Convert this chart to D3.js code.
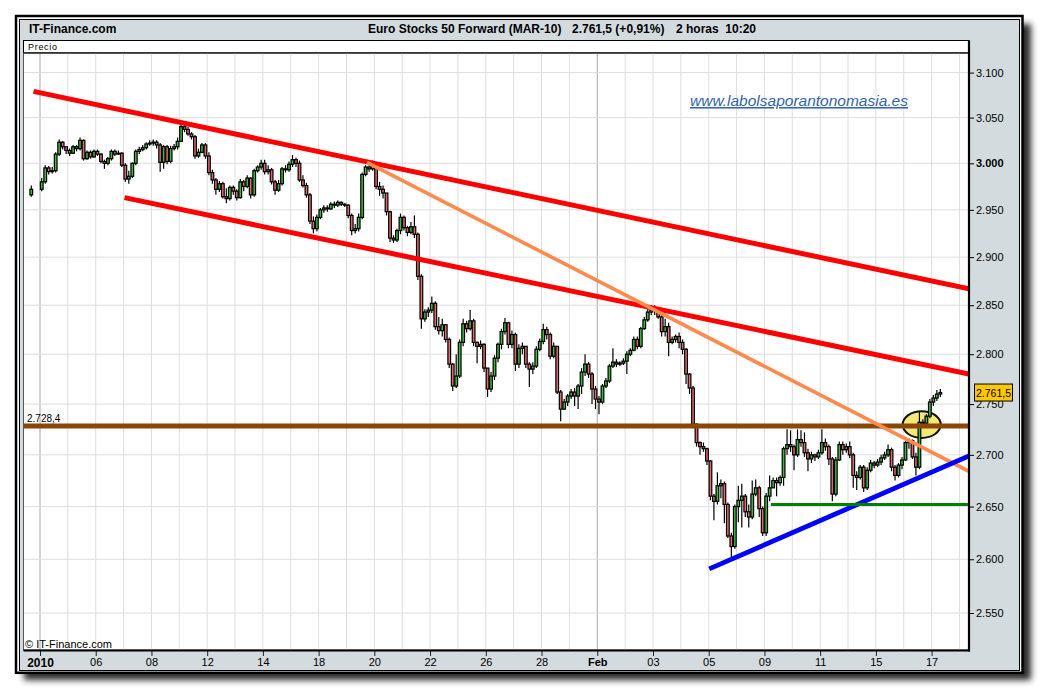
<!DOCTYPE html>
<html><head><meta charset="utf-8">
<script src="https://cdn.jsdelivr.net/npm/d3@7"></script>
<style>
body{margin:0;background:#fff}
svg{display:block}
text{font-family:"Liberation Sans",Arial,Helvetica,sans-serif;white-space:pre}
</style>
</head><body>
<svg id="c" width="1040" height="690"></svg>
<script>
// ---------------- DATA ----------------
// trading sessions (index of trading day; 0 = 4 Jan 2010), 8 two-hour bars per session
const sessionDays = [0,1,2,3,4,5,6,7,8,9,10,11,12,13,14,15,16,17,18,19,20,21,22,23,24,25,26,27,28,29,30,31,32];
// single bar of the previous session (30 Dec 2009)
const preBar = {day:-1, slot:5, open:2966, high:2976, low:2964, close:2972};
const closes = [
 [2980,2995,2991,2992,3010,3023,3018,3014],
 [3011,3018,3016,3025,3005,3012,3007,3013],
 [3010,3002,3000,3005,3013,3010,3011,2998],
 [2983,2986,3000,3013,3015,3017,3021,3022],
 [3023,3020,3001,3018,3002,3016,3018,3024],
 [3040,3037,3032,3029,3008,3012,3020,3008],
 [2990,2982,2972,2978,2964,2962,2974,2970],
 [2963,2980,2975,2984,2966,2992,2996,3000],
 [2991,2993,2980,2971,2978,2994,2993,2999],
 [3004,3000,2982,2976,2966,2938,2930,2942],
 [2950,2952,2951,2956,2955,2958,2956,2955],
 [2944,2928,2930,2942,2988,2996,2994,3000],
 [2975,2972,2968,2948,2920,2918,2928,2942],
 [2931,2926,2932,2924,2880,2836,2843,2845],
 [2852,2828,2824,2830,2815,2790,2768,2778],
 [2812,2831,2826,2834,2812,2808,2810,2786],
 [2765,2778,2796,2810,2823,2832,2810,2820],
 [2790,2806,2808,2790,2785,2788,2805,2813],
 [2825,2820,2798,2808,2762,2745,2752,2758],
 [2762,2758,2768,2782,2790,2780,2765,2755],
 [2752,2768,2773,2788,2792,2790,2791,2793],
 [2800,2804,2815,2808,2826,2835,2843,2845],
 [2845,2838,2823,2828,2812,2815,2818,2812],
 [2805,2780,2766,2730,2712,2708,2706,2694],
 [2660,2655,2670,2672,2652,2622,2612,2650],
 [2656,2660,2645,2640,2662,2668,2648,2625],
 [2660,2668,2675,2673,2678,2706,2710,2708],
 [2700,2715,2712,2702,2696,2700,2698,2702],
 [2712,2708,2696,2662,2695,2710,2705,2708],
 [2700,2680,2678,2688,2668,2685,2692,2690],
 [2693,2697,2700,2705,2688,2680,2690,2695],
 [2712,2714,2698,2688,2732,2731,2738,2752],
 [2756,2760,2761.5]
];
const highs = [
 [2984,2998,2997,2996,3012,3026,3024,3018],
 [3016,3020,3020,3028,3026,3014,3014,3015],
 [3015,3011,3004,3007,3015,3015,3014,3012],
 [3000,2992,3001,3015,3018,3020,3023,3025],
 [3026,3025,3022,3020,3020,3019,3021,3028],
 [3044,3043,3040,3034,3031,3016,3022,3022],
 [3012,2993,2984,2981,2980,2973,2976,2976],
 [2972,2983,2982,2987,2985,2994,2998,3004],
 [3004,2998,2995,2982,2982,2996,2998,3002],
 [3009,3006,3003,2987,2979,2968,2943,2945],
 [2952,2955,2955,2958,2959,2960,2959,2957],
 [2956,2946,2935,2946,2990,2998,2998,3003],
 [2988,2980,2976,2968,2949,2923,2930,2946],
 [2944,2933,2937,2944,2926,2882,2846,2848],
 [2859,2854,2838,2836,2830,2817,2791,2800],
 [2815,2836,2834,2845,2836,2813,2814,2811],
 [2786,2782,2799,2812,2826,2837,2833,2824],
 [2822,2810,2812,2808,2792,2792,2808,2816],
 [2831,2828,2822,2812,2808,2764,2755,2760],
 [2765,2766,2770,2786,2800,2792,2782,2768],
 [2758,2770,2776,2790,2806,2795,2793,2796],
 [2803,2806,2818,2818,2828,2838,2846,2850],
 [2850,2848,2840,2836,2832,2818,2820,2822],
 [2815,2806,2781,2768,2731,2713,2712,2707],
 [2695,2662,2683,2676,2674,2654,2625,2652],
 [2670,2672,2662,2652,2675,2676,2670,2650],
 [2663,2680,2678,2678,2680,2708,2725,2724],
 [2710,2725,2724,2722,2706,2703,2701,2705],
 [2725,2716,2710,2698,2698,2713,2713,2711],
 [2713,2702,2684,2690,2690,2688,2695,2694],
 [2696,2700,2703,2710,2707,2690,2692,2698],
 [2714,2716,2715,2702,2742,2735,2740,2755],
 [2759,2764,2765]
];
const lows = [
 [2970,2978,2988,2989,2990,3008,3015,3010],
 [3008,3010,3013,3014,3003,3004,3005,3006],
 [3008,3000,2994,2998,3003,3008,3009,2996],
 [2980,2978,2984,2998,3010,3013,3015,3019],
 [3019,3016,2991,2994,2999,3000,3014,3015],
 [3024,3034,3030,3026,3005,3006,3011,3005],
 [2987,2978,2966,2969,2962,2957,2960,2966],
 [2960,2962,2970,2973,2962,2964,2990,2993],
 [2988,2988,2977,2966,2969,2976,2990,2991],
 [2996,2996,2980,2974,2963,2935,2925,2927],
 [2940,2947,2948,2950,2952,2953,2954,2953],
 [2941,2923,2925,2927,2940,2986,2991,2992],
 [2972,2965,2962,2944,2916,2915,2916,2924],
 [2928,2922,2924,2920,2876,2826,2833,2838],
 [2842,2825,2820,2818,2812,2786,2763,2766],
 [2776,2808,2822,2824,2808,2791,2805,2782],
 [2757,2762,2774,2792,2805,2820,2806,2806],
 [2783,2786,2800,2786,2767,2780,2786,2803],
 [2810,2815,2795,2796,2760,2733,2744,2748],
 [2755,2748,2745,2760,2778,2776,2750,2745],
 [2740,2750,2766,2771,2786,2787,2788,2789],
 [2780,2798,2803,2805,2806,2825,2833,2840],
 [2840,2836,2818,2818,2798,2810,2812,2806],
 [2800,2770,2760,2726,2708,2700,2703,2690],
 [2656,2637,2652,2658,2634,2620,2602,2610],
 [2635,2630,2640,2630,2638,2660,2640,2622],
 [2622,2655,2668,2660,2670,2670,2700,2703],
 [2685,2698,2708,2698,2684,2692,2694,2696],
 [2700,2704,2690,2655,2660,2694,2700,2702],
 [2697,2668,2666,2676,2664,2666,2683,2687],
 [2688,2690,2695,2698,2684,2675,2678,2686],
 [2694,2706,2696,2680,2686,2728,2729,2736],
 [2748,2753,2757]
];
// axis ticks
const xTickDays   = [0,2,4,6,8,10,12,14,16,18,20,22,24,26,28,30,32];
const xTickLabels = ["2010","06","08","12","14","18","20","22","26","28","Feb","03","05","09","11","15","17"];
const yTickValues = [2550,2600,2650,2700,2750,2800,2850,2900,2950,3000,3050,3100];
// drawn studies (trading-day position, price)
const redUpper   = [[-0.233,3079],[33.342,2867]];
const redLower   = [[3.033,2963],[33.342,2780]];
const orangeLine = [[11.736,3001],[33.342,2684]];
const blueLine   = [[24.02,2591],[33.342,2699]];
const greenLine  = [[26.23,2652],[33.342,2652]];
const brownLevel = 2728.4;
const ellipseAt  = [31.645,2729.7];
const lastPrice  = 2761.5;
const titleParts = ["Euro Stocks 50 Forward (MAR-10)","2.761,5 (+0,91%)","2 horas  10:20"];

// ---------------- LAYOUT ----------------
const L = 24, R = 969, T = 53, B = 650;
const x = d3.scaleLinear().domain([0,32]).range([40,931.6]);
const y = d3.scaleLog().domain([2550,3100]).range([613,72.6]);
const loc = d3.formatLocale({decimal:",",thousands:".",grouping:[3],currency:["",""]});
const fInt = loc.format(",d"), f1 = loc.format(",.1f");

const svg = d3.select("#c");
const defs = svg.append("defs");
defs.append("filter").attr("id","sh").attr("x","-5%").attr("y","-5%").attr("width","110%").attr("height","110%")
  .append("feGaussianBlur").attr("stdDeviation",3.2);
defs.append("clipPath").attr("id","clip").append("rect").attr("x",L).attr("y",T).attr("width",R-L).attr("height",B-T);

// shadow + frame
svg.append("rect").attr("x",24).attr("y",24).attr("width",1007).attr("height",656).attr("fill","#2a2a2a").attr("filter","url(#sh)");
svg.append("rect").attr("x",16).attr("y",16).attr("width",1006.5).attr("height",656.8).attr("fill","#fff").attr("stroke","#000").attr("stroke-width",2.5);
svg.append("rect").attr("x",19.5).attr("y",19.5).attr("width",1000).attr("height",651).attr("fill","#d4dbdf").attr("stroke","#000").attr("stroke-width",1);

// header texts
svg.append("text").attr("x",29).attr("y",33).attr("font-size",12).attr("font-weight","bold").text("IT-Finance.com");
[368,572,676].forEach((px,i)=>svg.append("text").attr("x",px).attr("y",33).attr("font-size",12).attr("font-weight","bold").text(titleParts[i]));

// panel
svg.append("rect").attr("x",L-0.5).attr("y",40.5).attr("width",R-L+0.5).attr("height",12.5).attr("fill","#fff").attr("stroke","#000").attr("stroke-width",1);
svg.append("text").attr("x",28).attr("y",50).attr("font-size",9).attr("letter-spacing",0.7).text("Precio");
svg.append("rect").attr("x",L-0.5).attr("y",T).attr("width",R-L+0.5).attr("height",B-T).attr("fill","#fff").attr("stroke","#555").attr("stroke-width",1);

const plot = svg.append("g").attr("clip-path","url(#clip)");
// grid
const gridDays = [0,1,2,3,4,5,6,7,8,9,10,11,12,13,14,15,16,17,18,19,20,21,22,23,24,25,26,27,28,29,30,31,32,33];
plot.selectAll(".vg").data(gridDays).join("line")
  .attr("x1",d=>x(d)).attr("x2",d=>x(d)).attr("y1",T).attr("y2",B)
  .attr("stroke",d=>(d===0||d===20)?"#a8a8a8":"#dedede").attr("stroke-width",1);
plot.selectAll(".hg").data(yTickValues).join("line")
  .attr("x1",L).attr("x2",R).attr("y1",d=>y(d)).attr("y2",d=>y(d))
  .attr("stroke","#dedede").attr("stroke-width",1);

// watermark
svg.append("text").attr("x",690).attr("y",106).attr("font-size",15.5).attr("font-style","italic")
  .attr("fill","#3566aa").attr("text-decoration","underline").text("www.labolsaporantonomasia.es");

// ellipse (under candles)
plot.append("ellipse").attr("cx",x(ellipseAt[0])).attr("cy",y(ellipseAt[1])).attr("rx",19).attr("ry",13.3)
  .attr("fill","#f6e779").attr("stroke","#111").attr("stroke-width",2);

// bars
const bars = [{t: preBar.day + (preBar.slot+0.5)/8, o: preBar.open, h: preBar.high, l: preBar.low, c: preBar.close}];
let prev = preBar.close;
sessionDays.forEach((d,i)=>{
  closes[i].forEach((c,s)=>{
    bars.push({t: d + (s+0.5)/8, o: prev, h: highs[i][s], l: lows[i][s], c: c});
    prev = c;
  });
});
const bw = 2.7;
const cg = plot.append("g");
cg.selectAll(".wick").data(bars).join("line")
  .attr("x1",d=>x(d.t)).attr("x2",d=>x(d.t))
  .attr("y1",d=>y(Math.max(d.h,d.o,d.c))).attr("y2",d=>y(Math.min(d.l,d.o,d.c)))
  .attr("stroke","#000").attr("stroke-width",1.2);
cg.selectAll(".body").data(bars).join("rect")
  .attr("x",d=>x(d.t)-bw/2).attr("width",bw)
  .attr("y",d=>y(Math.max(d.o,d.c)))
  .attr("height",d=>Math.max(0.6, Math.abs(y(d.o)-y(d.c))))
  .attr("fill",d=>d.c>d.o?"#3dba3d":(d.c<d.o?"#e06a6a":"#000"))
  .attr("stroke","#000").attr("stroke-width",1.2);

// studies
function seg(pts,color,w){
  plot.append("line").attr("x1",x(pts[0][0])).attr("y1",y(pts[0][1]))
    .attr("x2",x(pts[1][0])).attr("y2",y(pts[1][1]))
    .attr("stroke",color).attr("stroke-width",w);
}
plot.append("line").attr("x1",L).attr("x2",R).attr("y1",y(brownLevel)).attr("y2",y(brownLevel))
  .attr("stroke","#8b4709").attr("stroke-width",5);
seg(redUpper,"#ff0000",5);
seg(redLower,"#ff0000",5);
seg(orangeLine,"#ff8a4d",3.6);
seg(blueLine,"#0000ff",4.8);
seg(greenLine,"#008000",3);

svg.append("text").attr("x",27).attr("y",422).attr("font-size",10).text(f1(brownLevel));
svg.append("text").attr("x",25).attr("y",648).attr("font-size",11).text("© IT-Finance.com");

// axes
const yAxis = d3.axisRight(y).tickValues(yTickValues).tickFormat(fInt).tickSize(4).tickPadding(2);
const ya = svg.append("g").attr("transform",`translate(${R+1},0)`).call(yAxis);
ya.select(".domain").remove();
ya.selectAll("line").attr("stroke","#000");
ya.selectAll("text").attr("font-size",11).attr("font-family",null).attr("fill","#000")
  .attr("font-weight",d=>d===3000?"bold":"normal");

const xAxis = d3.axisBottom(x).tickValues(xTickDays).tickFormat((d,i)=>xTickLabels[i]).tickSize(6).tickPadding(2);
const xa = svg.append("g").attr("transform",`translate(0,${B})`).call(xAxis);
xa.select(".domain").remove();
xa.selectAll("line").attr("stroke","#222");
xa.selectAll("text").attr("font-family",null).attr("fill","#000")
  .attr("font-size",(d,i)=>i===0?12:11)
  .attr("font-weight",(d,i)=>(xTickLabels[i]==="2010"||xTickLabels[i]==="Feb")?"bold":"normal");

// frame lines of plot
svg.append("line").attr("x1",L-0.5).attr("x2",R+1).attr("y1",B+0.5).attr("y2",B+0.5).attr("stroke","#000").attr("stroke-width",2.2);
svg.append("line").attr("x1",R).attr("x2",R).attr("y1",40.5).attr("y2",B+1.5).attr("stroke","#000").attr("stroke-width",2.2);
svg.append("line").attr("x1",L-0.5).attr("x2",R).attr("y1",T).attr("y2",T).attr("stroke","#000").attr("stroke-width",1);

// last price tag
const py = y(lastPrice);
svg.append("rect").attr("x",974.5).attr("y",py-8.5).attr("width",38).attr("height",17).attr("fill","#ffc800").attr("stroke","#000").attr("stroke-width",1);
svg.append("text").attr("x",993.5).attr("y",py+4).attr("font-size",10.5).attr("text-anchor","middle").attr("textLength",35).attr("lengthAdjust","spacingAndGlyphs").text(f1(lastPrice));
</script>
</body></html>
